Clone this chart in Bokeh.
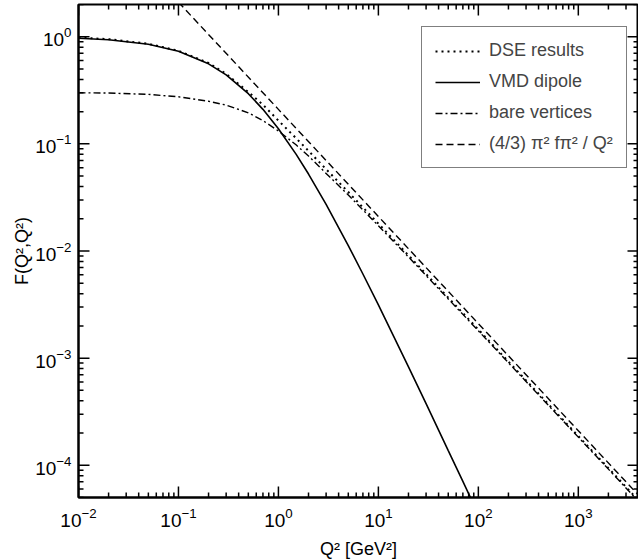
import math
from bokeh.plotting import figure
from bokeh.models import Range1d, Legend, LegendItem, LogTicker
from bokeh.embed import file_html
from bokeh.resources import INLINE

# ---- data ----
q2 = [0.01, 0.02, 0.05, 0.1, 0.2, 0.3, 0.5, 0.7, 1.0, 1.5, 2.0, 3.0, 5.0, 7.0,
      10.0, 20.0, 30.0, 50.0, 70.0, 100.0, 200.0, 300.0, 500.0, 1000.0, 2000.0, 4000.0]

vmd_dipole = [0.967, 0.936, 0.851, 0.732, 0.559, 0.441, 0.294, 0.210, 0.1386, 0.0803,
              0.0523, 0.0272, 0.01124, 0.0061, 0.00314, 0.000829, 0.000376, 0.000137,
              7.06e-5, 3.48e-5]

dse_results = [0.98, 0.95, 0.86, 0.74, 0.57, 0.45, 0.305, 0.232, 0.165, 0.113, 0.086,
               0.058, 0.0355, 0.0255, 0.018, 0.0091, 0.0061, 0.00367, 0.00263, 0.00185,
               0.000928, 0.00062, 0.000373, 0.000187, 9.4e-5, 4.7e-5]

bare_vertices = [0.300, 0.298, 0.290, 0.275, 0.250, 0.230, 0.195, 0.165, 0.132, 0.098,
                 0.077, 0.053, 0.0333, 0.0242, 0.0172, 0.0088, 0.0059, 0.00357, 0.00256,
                 0.0018, 0.000905, 0.000605, 0.000364, 0.000183, 9.2e-5, 4.6e-5]

q2_asym = [0.1, 1.0, 10.0, 100.0, 1000.0, 5000.0]
asymptote = [2.1, 0.21, 0.021, 0.0021, 0.00021, 4.2e-5]

x_lim = (0.01, 4000)
y_lim = (5e-5, 2)
x_decades = [-2, -1, 0, 1, 2, 3]
y_decades = [-5, -4, -3, -2, -1, 0]

FONT = "Liberation Sans"

p = figure(x_axis_type="log", y_axis_type="log",
           x_range=Range1d(*x_lim), y_range=Range1d(*y_lim),
           frame_width=560, frame_height=493,
           min_border_left=78, min_border_right=0, min_border_top=4, min_border_bottom=60,
           output_backend="svg", toolbar_location=None)
p.xgrid.visible = False
p.ygrid.visible = False
p.outline_line_color = "black"
p.outline_line_width = 2
p.background_fill_color = "white"
p.border_fill_color = "white"

r_dse = p.line(q2, dse_results, line_color="black", line_width=2, line_dash="2 4")
r_vmd = p.line(q2[:len(vmd_dipole)], vmd_dipole, line_color="black", line_width=1.6)
r_bare = p.line(q2, bare_vertices, line_color="black", line_width=1.4, line_dash="7 3 2 3")
r_asym = p.line(q2_asym, asymptote, line_color="black", line_width=1.4, line_dash="7 4")

# ---- inward ticks on all four sides (drawn as screen-length rays) ----
def tick_positions(decades, lo, hi):
    major, minor = [], []
    for k in decades:
        for m in range(1, 10):
            v = m * 10.0 ** k
            if lo * 0.999 <= v <= hi * 1.001:
                (major if m == 1 else minor).append(v)
    return major, minor

xmaj, xmin_ = tick_positions(x_decades, *x_lim)
ymaj, ymin_ = tick_positions(y_decades, *y_lim)
tick_style = dict(line_color="black", line_width=1.5, length_units="screen")
for vals, ln in ((xmaj, 11), (xmin_, 5)):
    p.ray(x=vals, y=[y_lim[0]] * len(vals), length=ln, angle=math.pi / 2, **tick_style)
    p.ray(x=vals, y=[y_lim[1]] * len(vals), length=ln, angle=-math.pi / 2, **tick_style)
for vals, ln in ((ymaj, 11), (ymin_, 5)):
    p.ray(x=[x_lim[0]] * len(vals), y=vals, length=ln, angle=0, **tick_style)
    p.ray(x=[x_lim[1]] * len(vals), y=vals, length=ln, angle=math.pi, **tick_style)


def style(ax):
    ax.ticker = LogTicker(num_minor_ticks=10)
    ax.axis_line_width = 2
    ax.axis_line_color = "black"
    ax.major_tick_in = 0
    ax.major_tick_out = 0
    ax.minor_tick_in = 0
    ax.minor_tick_out = 0
    ax.major_label_text_font = FONT
    ax.major_label_text_font_size = "19px"
    ax.major_label_text_color = "black"
    ax.axis_label_text_font = FONT
    ax.axis_label_text_font_size = "18px"
    ax.axis_label_text_font_style = "normal"
    ax.axis_label_text_color = "black"


style(p.xaxis[0])
style(p.yaxis[0])
p.xaxis[0].axis_label = "Q² [GeV²]"
p.xaxis[0].major_label_standoff = 10
p.xaxis[0].axis_label_standoff = 9
p.yaxis[0].axis_label = "F(Q²,Q²)"
p.yaxis[0].major_label_standoff = 7
p.yaxis[0].axis_label_standoff = 0

legend = Legend(items=[
    LegendItem(label="DSE results", renderers=[r_dse]),
    LegendItem(label="VMD dipole", renderers=[r_vmd]),
    LegendItem(label="bare vertices", renderers=[r_bare]),
    LegendItem(label="(4/3) π² fπ² / Q²", renderers=[r_asym]),
], location=(343, 329))
legend.label_text_font = FONT
legend.label_text_font_size = "18px"
legend.glyph_width = 45
legend.glyph_height = 20
legend.label_height = 20
legend.label_standoff = 9
legend.spacing = 10
legend.padding = 13
legend.margin = 0
legend.border_line_color = "black"
legend.border_line_width = 1.5
legend.background_fill_alpha = 1
p.add_layout(legend, "center")

open("out.html", "w").write(file_html(p, INLINE))
